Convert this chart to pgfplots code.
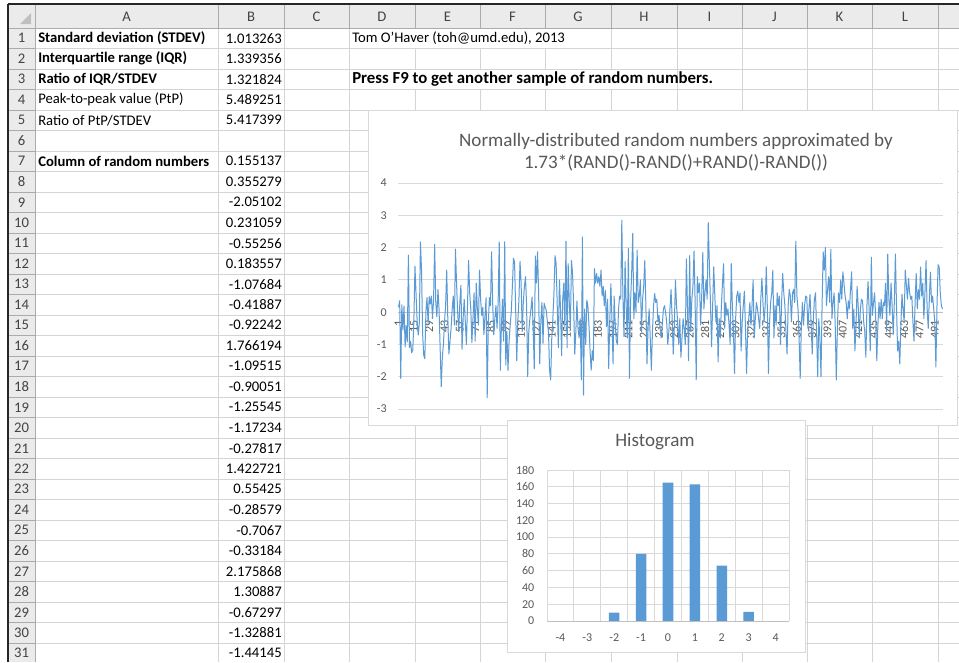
\documentclass[border=0pt]{standalone}
\usepackage{fontspec}
\setmainfont{Carlito}
\usepackage{pgfplots}
\usepackage{pgfplotstable}
\pgfplotsset{compat=1.18}

\definecolor{xlblue}{HTML}{5B9BD5}
\definecolor{xltext}{HTML}{595959}
\definecolor{xlgrid}{HTML}{D9D9D9}
\definecolor{xlaxis}{HTML}{BFBFBF}
\definecolor{cellgrid}{HTML}{D4D4D4}
\definecolor{hdrfill}{HTML}{EBEBEB}
\definecolor{hdrline}{HTML}{ABABAB}
\definecolor{hdrtext}{HTML}{444444}

% 498 random numbers (first 25 from column B)
\pgfplotstableread[row sep=\\]{
v\\
0.155\\ 0.355\\ -2.051\\ 0.231\\ -0.553\\ 0.184\\ -1.077\\ -0.419\\ -0.922\\ 1.766\\ -1.095\\ -0.901\\ -1.255\\ -1.172\\
-0.278\\ 1.423\\ 0.554\\ -0.286\\ -0.707\\ -0.332\\ 2.176\\ 1.309\\ -0.673\\ -1.329\\ -1.441\\ 0.02\\ 0.45\\ -0.35\\
0.48\\ 0.25\\ 0.50\\ -0.20\\ 0.40\\ 2.10\\ 0.30\\ -0.15\\ 0.70\\ 0.10\\ -1.10\\ -2.31\\ -1.40\\ -1.00\\
-0.30\\ 0.20\\ 1.30\\ -0.20\\ -1.30\\ -0.90\\ -0.50\\ 0.10\\ 0.50\\ -0.40\\ 1.95\\ 0.90\\ 0.00\\ -0.60\\
0.30\\ 0.83\\ -1.15\\ -0.20\\ 0.40\\ -0.30\\ -1.00\\ 0.20\\ 1.61\\ 0.60\\ 0.10\\ -0.95\\ -0.20\\ 0.60\\
-0.90\\ 0.90\\ 0.10\\ -0.40\\ 1.30\\ 0.40\\ -0.10\\ 0.15\\ -0.70\\ -0.10\\ 0.45\\ -2.65\\ -0.40\\ 0.45\\
0.20\\ 1.87\\ 0.30\\ -0.70\\ -0.20\\ 0.20\\ -0.50\\ 0.30\\ 2.18\\ -1.80\\ -0.40\\ 0.40\\ -0.90\\ 2.18\\
-1.64\\ -0.60\\ -1.80\\ -0.90\\ -0.40\\ 0.00\\ 0.80\\ 1.67\\ 1.55\\ 0.10\\ -1.50\\ -0.30\\ 0.40\\ 1.57\\
0.90\\ -0.60\\ 0.30\\ 0.80\\ 1.10\\ 0.20\\ -2.00\\ -0.60\\ -0.20\\ 0.10\\ 0.47\\ -0.50\\ -1.75\\ 1.74\\
0.90\\ 1.87\\ 0.60\\ -1.60\\ -0.30\\ 0.30\\ -0.97\\ 0.28\\ 0.15\\ 0.05\\ -0.30\\ -0.60\\ -1.80\\ -2.10\\
-0.80\\ -0.20\\ 0.60\\ 1.75\\ 1.50\\ 0.20\\ -1.10\\ 1.00\\ 0.10\\ -1.35\\ 0.40\\ 0.90\\ -0.50\\ 2.20\\
-1.10\\ 1.50\\ 0.30\\ -0.50\\ 1.60\\ 1.20\\ 0.20\\ -1.30\\ -0.60\\ 0.35\\ -0.50\\ -0.80\\ -0.20\\ -2.10\\
2.33\\ -2.57\\ 0.10\\ -1.00\\ 0.37\\ 0.20\\ -0.40\\ -1.20\\ -1.80\\ -1.20\\ -1.50\\ 1.35\\ 0.90\\ 1.20\\
0.90\\ 1.10\\ 0.80\\ 1.30\\ 0.50\\ 0.80\\ 0.20\\ 0.67\\ -0.45\\ 0.40\\ -1.75\\ -0.30\\ 0.88\\ -0.20\\
-1.60\\ 0.50\\ -0.40\\ -0.90\\ -1.00\\ 0.10\\ 0.50\\ 0.40\\ 2.85\\ 0.50\\ -0.76\\ 1.57\\ 0.20\\ -0.80\\
1.97\\ -2.05\\ 0.30\\ 1.20\\ 2.44\\ -0.20\\ 0.60\\ 0.00\\ 1.92\\ 0.30\\ 0.50\\ 1.00\\ -0.60\\ 0.40\\
0.80\\ 1.60\\ 0.20\\ -1.60\\ -0.50\\ 0.10\\ -0.80\\ -1.80\\ -0.60\\ 0.20\\ 0.58\\ 0.30\\ 0.40\\ -0.30\\
-0.10\\ -0.50\\ -0.80\\ -0.40\\ 0.10\\ 0.20\\ 0.00\\ -0.30\\ -1.00\\ -0.60\\ 0.10\\ 0.70\\ -0.20\\ -1.30\\
-0.40\\ 1.00\\ 0.20\\ -0.30\\ -1.00\\ -0.20\\ -1.40\\ -0.80\\ -0.20\\ -0.50\\ -1.00\\ 1.65\\ 0.20\\ -1.50\\
1.75\\ -0.60\\ 0.40\\ 0.80\\ 1.90\\ 0.30\\ -2.10\\ 1.10\\ 0.60\\ 0.90\\ -0.40\\ 0.50\\ 1.85\\ 0.10\\
0.60\\ 1.00\\ 0.40\\ 2.77\\ 1.50\\ 0.30\\ -1.07\\ 0.20\\ 1.40\\ 0.50\\ -0.30\\ 0.20\\ -1.54\\ -0.20\\
-0.80\\ 0.20\\ 0.90\\ 1.50\\ -0.50\\ 0.30\\ -0.10\\ 0.10\\ -0.40\\ -1.00\\ 1.50\\ 0.20\\ -0.60\\ -1.90\\
-0.20\\ 0.50\\ 0.65\\ 0.30\\ 0.60\\ -1.20\\ -0.30\\ 0.20\\ 0.65\\ -0.50\\ -1.90\\ -0.60\\ -0.20\\ 0.30\\
-0.40\\ 0.20\\ 1.00\\ -0.80\\ -0.20\\ 0.30\\ 0.10\\ -0.20\\ -0.50\\ 0.40\\ 1.05\\ 0.30\\ -0.30\\ 0.20\\
1.40\\ 0.10\\ -1.90\\ -0.30\\ 0.30\\ 0.60\\ 1.30\\ -0.80\\ 0.20\\ -0.40\\ 0.60\\ 0.20\\ 0.50\\ -1.00\\
0.30\\ 1.20\\ 0.60\\ 0.20\\ -0.60\\ -1.30\\ 0.20\\ 0.70\\ 0.50\\ -0.30\\ 0.60\\ 0.70\\ 0.30\\ 2.20\\
0.50\\ 0.10\\ -0.80\\ -2.05\\ -0.50\\ 0.30\\ -0.40\\ 0.20\\ 0.50\\ 0.47\\ -0.50\\ 0.10\\ 0.55\\ -0.40\\
-1.30\\ -0.20\\ 0.40\\ 0.60\\ -0.60\\ -2.00\\ -0.20\\ -0.80\\ -2.00\\ 0.20\\ 1.87\\ 1.30\\ 2.00\\ 0.20\\
0.70\\ 1.10\\ 0.30\\ 1.95\\ -0.20\\ 0.30\\ 0.60\\ -0.40\\ -2.10\\ -0.50\\ 0.60\\ 0.30\\ 1.00\\ 0.40\\
1.25\\ 0.90\\ 0.50\\ 0.30\\ -0.20\\ 0.35\\ 0.10\\ 0.70\\ 1.25\\ -0.50\\ 0.10\\ -1.20\\ -0.40\\ 0.80\\
0.20\\ -0.80\\ 0.10\\ 0.40\\ 0.35\\ -0.30\\ -0.60\\ -1.40\\ 0.20\\ 0.95\\ 0.10\\ -1.20\\ 1.70\\ -0.10\\
0.30\\ 0.60\\ -0.20\\ -1.50\\ -0.40\\ 0.30\\ -0.20\\ 0.40\\ -0.20\\ 0.30\\ 0.20\\ 0.90\\ -0.60\\ 1.80\\
0.40\\ -0.10\\ 0.90\\ 0.20\\ -0.70\\ 0.30\\ 1.80\\ 0.20\\ -1.20\\ -0.90\\ -1.60\\ -0.40\\ 0.55\\ 0.10\\
-0.30\\ 1.30\\ 0.85\\ 0.40\\ 1.05\\ 0.60\\ 0.40\\ 0.50\\ -0.30\\ -0.90\\ 0.30\\ 1.20\\ 0.10\\ 0.70\\
0.40\\ 1.40\\ 0.50\\ 0.90\\ -0.20\\ 0.60\\ 1.60\\ 0.10\\ -0.50\\ 0.40\\ 1.24\\ 0.30\\ 0.50\\ 0.10\\
-0.30\\ -1.70\\ 0.20\\ 1.47\\ 1.40\\ 0.60\\ 0.20\\ 0.10\\
}\randdata

\pgfplotstableread{
bin count
-4 0
-3 0
-2 10
-1 80
0 165
1 163
2 66
3 11
4 0
}\histdata

\begin{document}
\begin{tikzpicture}[x=0.75pt,y=-0.75pt,font=\fontsize{11}{13}\selectfont]
\path[use as bounding box] (0,0) rectangle (959,662);
\begin{scope}
\clip (0,0) rectangle (959,662);
\fill[white] (0,0) rectangle (959,662);

% sheet headers
\fill[hdrfill] (8,5) rectangle (959,28);
\fill[hdrfill] (8,28) rectangle (35,662);
\fill[xlaxis] (31,24) -- (31,13) -- (20,24) -- cycle;

% cell grid
\foreach \xx in {218,284,349,415,480,545,611,677,742,807,872,938}
  \draw[cellgrid,line width=0.75pt] (\xx,28) -- (\xx,662);
\foreach \k in {1,...,31}
  \draw[cellgrid,line width=0.75pt] (35,{28+\k*20.5}) -- (959,{28+\k*20.5});
% text running over into the next cells hides their borders
\fill[white] (350,29) rectangle (610.4,48);
\fill[white] (350,70) rectangle (676.4,89);

% header borders
\foreach \xx in {218,284,349,415,480,545,611,677,742,807,872,938}
  \draw[hdrline,line width=0.75pt] (\xx,5) -- (\xx,28);
\foreach \k in {1,...,31}
  \draw[hdrline,line width=0.75pt] (8,{28+\k*20.5}) -- (35,{28+\k*20.5});
\draw[hdrline,line width=0.75pt] (8,28) -- (959,28);
\draw[hdrline,line width=0.75pt] (35,5) -- (35,662);

% column letters
\foreach \c/\xx in {A/126.5,B/251,C/316.5,D/382,E/447.5,F/512.5,G/578,H/644,I/709.5,J/774.5,K/839.5,L/905}
  \node[text=hdrtext] at (\xx,16.5) {\c};
% row numbers
\foreach \k in {1,...,31}
  \node[text=hdrtext] at (21.5,{28+(\k-0.5)*20.5}) {\k};

% cell contents
\node[anchor=west,inner sep=0pt] at (38,{28+0.5*20.5}) {\bfseries Standard deviation (STDEV)};
\node[anchor=west,inner sep=0pt] at (38,{28+1.5*20.5}) {\bfseries Interquartile range (IQR)};
\node[anchor=west,inner sep=0pt] at (38,{28+2.5*20.5}) {\bfseries Ratio of IQR/STDEV};
\node[anchor=west,inner sep=0pt] at (38,{28+3.5*20.5}) {Peak-to-peak value (PtP)};
\node[anchor=west,inner sep=0pt] at (38,{28+4.5*20.5}) {Ratio of PtP/STDEV};
\node[anchor=west,inner sep=0pt] at (38,{28+6.5*20.5}) {\bfseries Column of random numbers};
\node[anchor=west,inner sep=0pt] at (352,{28+0.5*20.5}) {Tom O'Haver (toh@umd.edu), 2013};
\node[anchor=west,inner sep=0pt,font=\fontsize{12.6}{14}\selectfont] at (352,{28+2.5*20.5}) {\bfseries Press F9 to get another sample of random numbers.};
\foreach \k/\val in {1/1.013263,2/1.339356,3/1.321824,4/5.489251,5/5.417399,
  7/0.155137,8/0.355279,9/-2.05102,10/0.231059,11/-0.55256,12/0.183557,
  13/-1.07684,14/-0.41887,15/-0.92242,16/1.766194,17/-1.09515,18/-0.90051,
  19/-1.25545,20/-1.17234,21/-0.27817,22/1.422721,23/0.55425,24/-0.28579,
  25/-0.7067,26/-0.33184,27/2.175868,28/1.30887,29/-0.67297,30/-1.32881,31/-1.44145}
  \node[anchor=east,inner sep=0pt] at (282,{28+(\k-0.5)*20.5}) {\val};

% chart frames
\filldraw[fill=white,draw=xlgrid,line width=0.75pt] (368,110) rectangle (957,425);
\filldraw[fill=white,draw=xlgrid,line width=0.75pt] (507,420) rectangle (805,652);

% chart titles
\node[text=xltext,font=\fontsize{14.3}{16}\selectfont] at (676,141) {Normally-distributed random numbers approximated by};
\node[text=xltext,font=\fontsize{14.3}{16}\selectfont] at (676,163) {1.73*(RAND()-RAND()+RAND()-RAND())};
\node[text=xltext,font=\fontsize{14.3}{16}\selectfont] at (655,442) {Histogram};

% line chart
\begin{axis}[
    at={(298.5pt,-306.75pt)}, anchor=south west,
    scale only axis, width=408.75pt, height=169.5pt,
    xmin=0.5, xmax=498.5, ymin=-3, ymax=4,
    axis x line=middle, axis y line=left,
    x axis line style={draw=xlaxis,line width=0.75pt,-},
    y axis line style={draw=none},
    hide obscured x ticks=false, hide obscured y ticks=false,
    xtick={1,15,...,491}, ytick={-3,...,4},
    major tick length=0pt,
    ymajorgrids, grid style={draw=xlgrid,line width=0.75pt},
    /pgf/number format/assume math mode=true,
    xticklabel style={font=\fontsize{9}{10}\selectfont,text=xltext,rotate=90,anchor=east,inner sep=0pt},
    xticklabel shift=6pt,
    yticklabel style={font=\fontsize{9}{10}\selectfont,text=xltext},
    yticklabel shift=5pt,
  ]
  \addplot[xlblue,line width=0.75pt,line join=round,no marks]
    table[x expr=\coordindex+1,y=v] {\randdata};
\end{axis}

% histogram
\begin{axis}[
    at={(410.25pt,-465.75pt)}, anchor=south west,
    scale only axis, width=181.5pt, height=113.25pt,
    xmin=-4.5, xmax=4.5, ymin=0, ymax=180,
    axis line style={draw=none},
    xtick={-4,...,4}, ytick={0,20,...,180},
    minor xtick={-4.5,-3.5,...,4.5},
    major tick length=0pt, minor tick length=0pt,
    ymajorgrids, xminorgrids,
    major grid style={draw=xlgrid,line width=0.75pt},
    minor grid style={draw=xlgrid,line width=0.75pt},
    /pgf/number format/assume math mode=true,
    ticklabel style={font=\fontsize{9}{10}\selectfont,text=xltext},
    xticklabel shift=6pt, yticklabel shift=6pt,
  ]
  \addplot[ybar,bar width=7.9pt,fill=xlblue,draw=none]
    table[x=bin,y=count] {\histdata};
  \draw[xlaxis,line width=0.75pt] (axis cs:-4.5,0) -- (axis cs:4.5,0);
\end{axis}

% screenshot frame
\draw[black!85,line width=1.8pt] (8,4) -- (959,4);
\draw[black!85,line width=1.8pt] (8,4) -- (8,662);
\end{scope}
\end{tikzpicture}
\end{document}
